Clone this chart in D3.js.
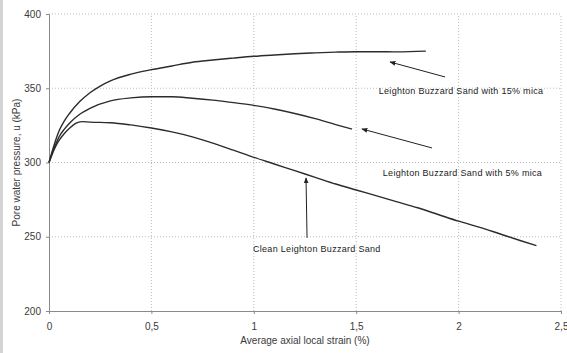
<!DOCTYPE html>
<html>
<head>
<meta charset="utf-8">
<script src="https://cdn.jsdelivr.net/npm/d3@7"></script>
<style>
  body { margin: 0; background: #fff; }
  svg { display: block; font-family: "Liberation Sans", Arial, sans-serif; }
</style>
</head>
<body>
<div id="chart"></div>
<script>
// strain (%) vs pore water pressure (kPa)
const mica15 = [
    [0, 300], [0.01, 305], [0.02, 309.5], [0.035, 316], [0.05, 321.5], [0.075, 328],
    [0.1, 333], [0.15, 341], [0.2, 347], [0.25, 351.5], [0.3, 355], [0.4, 359.5],
    [0.5, 362.5], [0.6, 365], [0.7, 367.5], [0.8, 369], [0.9, 370.3], [1.0, 371.5],
    [1.1, 372.4], [1.2, 373.2], [1.3, 373.8], [1.4, 374.3], [1.5, 374.6], [1.6, 374.6],
    [1.7, 374.5], [1.84, 375]
];
const mica5 = [
    [0, 300], [0.01, 304], [0.02, 308], [0.035, 313], [0.05, 317.5], [0.075, 322.5],
    [0.1, 326.5], [0.15, 332.5], [0.2, 336.5], [0.3, 341.5], [0.4, 343.5], [0.5, 344.3],
    [0.6, 344.3], [0.7, 343.3], [0.8, 342], [0.9, 340.3], [1.0, 338.5], [1.1, 336],
    [1.2, 333], [1.3, 329.5], [1.4, 325.5], [1.48, 322.5]
];
const clean = [
    [0, 300], [0.01, 303.5], [0.02, 307], [0.035, 311.5], [0.05, 315], [0.075, 319.5],
    [0.1, 323], [0.13, 326.3], [0.16, 327.5], [0.2, 327.2], [0.3, 326.8], [0.4, 325.3],
    [0.5, 323.2], [0.6, 320.6], [0.7, 317.3], [0.8, 313], [0.9, 308.3], [1.0, 303.5],
    [1.1, 299], [1.2, 294.5], [1.3, 290], [1.4, 285.5], [1.5, 281.5], [1.6, 277.5],
    [1.7, 273.5], [1.8, 269.5], [1.9, 265], [2.0, 260.5], [2.1, 256.5], [2.2, 252],
    [2.3, 247.5], [2.38, 244]
];

const xTicks = [0, 0.5, 1, 1.5, 2, 2.5];
const yTicks = [200, 250, 300, 350, 400];

const labels = ["Leighton Buzzard Sand with 15% mica", "Leighton Buzzard Sand with 5% mica", "Clean Leighton Buzzard Sand"];
// label anchor [x, y] and arrow [tailX, tailY, headX, headY] in data units
const labelPos = [[1.61, 348], [1.63, 293], [0.996, 241.8]];
const arrows = [
    [1.934, 357.6, 1.665, 367.7],
    [1.87, 309.8, 1.528, 322.6],
    [1.26, 249.2, 1.255, 289.6]
];

const width = 567, height = 353;
const margin = { top: 14, right: 6, bottom: 42, left: 49 };

const svg = d3.select("#chart")
    .append("svg")
    .attr("width", width)
    .attr("height", height);

// grey strip down the left edge
svg.append("rect")
    .attr("x", 0).attr("y", 0)
    .attr("width", 3).attr("height", height)
    .attr("fill", "#d4d4d4");

const x = d3.scaleLinear().domain([0, 2.5]).range([margin.left, 561]);
const y = d3.scaleLinear().domain([200, 400]).range([311, margin.top]);

// dotted grid
svg.append("g")
    .selectAll("line")
    .data(yTicks.slice(1))
    .enter()
    .append("line")
    .attr("x1", x(0)).attr("x2", x(2.5))
    .attr("y1", d => y(d)).attr("y2", d => y(d))
    .attr("stroke", "#bdbdbd")
    .attr("stroke-dasharray", "1,2");

svg.append("g")
    .selectAll("line")
    .data(xTicks.slice(1))
    .enter()
    .append("line")
    .attr("x1", d => x(d)).attr("x2", d => x(d))
    .attr("y1", y(200)).attr("y2", y(400))
    .attr("stroke", "#bdbdbd")
    .attr("stroke-dasharray", "1,2");

const fmt = d => String(d).replace(".", ",");

const xAxis = svg.append("g")
    .attr("transform", `translate(0,${y(200)})`)
    .call(d3.axisBottom(x).tickValues(xTicks).tickFormat(fmt).tickSize(3).tickPadding(9));

const yAxis = svg.append("g")
    .attr("transform", `translate(${x(0)},0)`)
    .call(d3.axisLeft(y).tickValues(yTicks).tickSize(3).tickPadding(5));

[xAxis, yAxis].forEach(g => {
    g.select(".domain").attr("stroke", "#8a8a8a");
    g.selectAll(".tick line").attr("stroke", "#8a8a8a");
    g.selectAll(".tick text")
        .attr("fill", "#3a3a3a")
        .style("font-size", "10px")
        .style("font-family", "'Liberation Sans', Arial, sans-serif");
});

svg.append("text")
    .attr("x", 305)
    .attr("y", 344)
    .attr("text-anchor", "middle")
    .style("font-size", "10px")
    .attr("fill", "#3a3a3a")
    .text("Average axial local strain (%)");

svg.append("text")
    .attr("transform", `translate(20,${(y(200) + y(400)) / 2}) rotate(-90)`)
    .attr("text-anchor", "middle")
    .style("font-size", "10px")
    .attr("fill", "#3a3a3a")
    .text("Pore water pressure, u (kPa)");

const line = d3.line()
    .x(d => x(d[0]))
    .y(d => y(d[1]))
    .curve(d3.curveMonotoneX);

svg.append("g")
    .selectAll("path")
    .data([mica15, mica5, clean])
    .enter()
    .append("path")
    .attr("d", line)
    .attr("fill", "none")
    .attr("stroke", "#2b2b2b")
    .attr("stroke-width", 1.4);

// arrow annotations
svg.append("defs")
    .append("marker")
    .attr("id", "head")
    .attr("viewBox", "0 0 10 10")
    .attr("refX", 9).attr("refY", 5)
    .attr("markerWidth", 6).attr("markerHeight", 6)
    .attr("orient", "auto")
    .append("path")
    .attr("d", "M0,1 L10,5 L0,9 Z")
    .attr("fill", "#222");

svg.append("g")
    .selectAll("line")
    .data(arrows)
    .enter()
    .append("line")
    .attr("x1", d => x(d[0])).attr("y1", d => y(d[1]))
    .attr("x2", d => x(d[2])).attr("y2", d => y(d[3]))
    .attr("stroke", "#222")
    .attr("stroke-width", 1)
    .attr("marker-end", "url(#head)");

svg.append("g")
    .selectAll("text")
    .data(labels)
    .enter()
    .append("text")
    .attr("x", (d, i) => x(labelPos[i][0]))
    .attr("y", (d, i) => y(labelPos[i][1]))
    .attr("dy", "0.35em")
    .style("font-size", "9px")
    .style("letter-spacing", "0.3px")
    .attr("fill", "#222")
    .text(d => d);
</script>
</body>
</html>
